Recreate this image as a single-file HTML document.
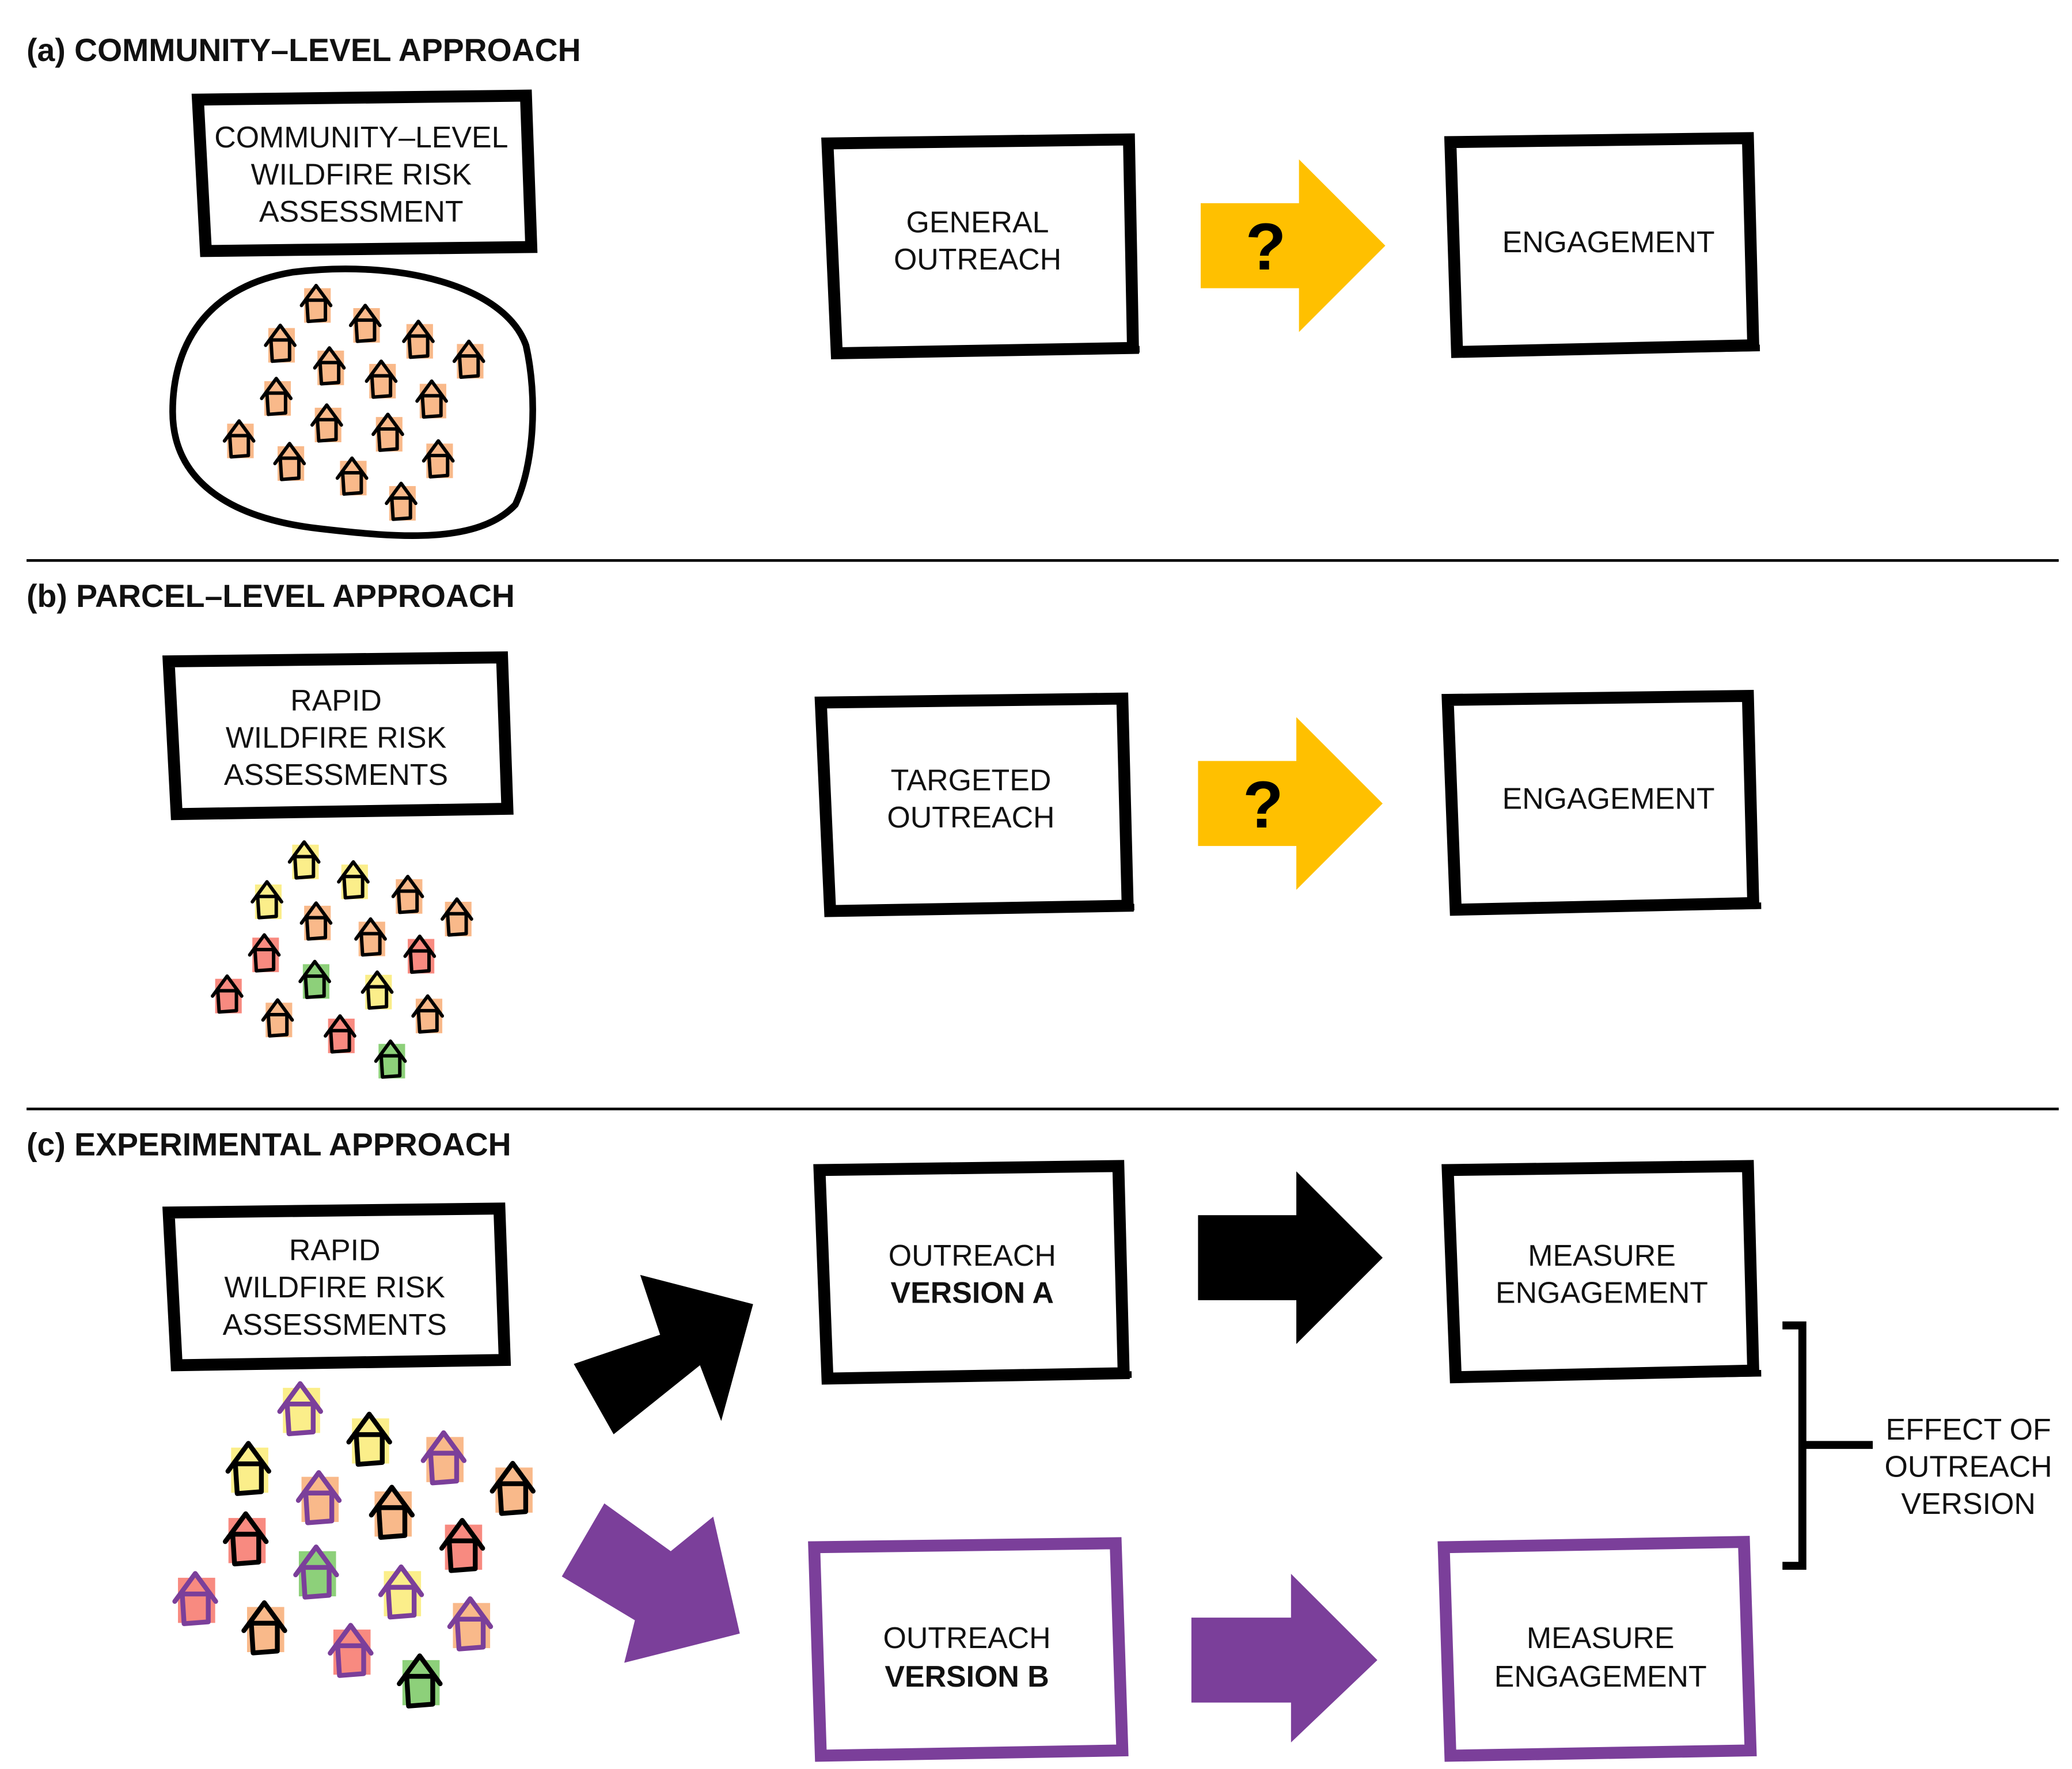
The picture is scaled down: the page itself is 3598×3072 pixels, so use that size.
<!DOCTYPE html>
<html><head><meta charset="utf-8"><style>
html,body{margin:0;padding:0;background:#fff}
svg{display:block}
text{font-family:"Liberation Sans",sans-serif}
.t{font-size:22.5px;fill:#111;text-anchor:middle}
.h{font-size:24px;font-weight:bold;fill:#111}
.b{fill:none;stroke:#000;stroke-width:9;stroke-linejoin:miter}
.p{fill:none;stroke:#7b3f9a;stroke-width:9;stroke-linejoin:miter}
</style></head><body>
<svg width="3598" height="3072" viewBox="0 0 1560 1332" preserveAspectRatio="none" xmlns="http://www.w3.org/2000/svg">
<defs>
<g id="hk"><polyline points="-11,2 0,-13 11,2" fill="none" stroke="#000" stroke-width="2.6" stroke-linejoin="round" stroke-linecap="round"/><path d="M-7,-2 L-6,14 L7,13 L7,-2 Z" fill="none" stroke="#000" stroke-width="2.6" stroke-linejoin="round"/></g>
<g id="hp"><polyline points="-11,2 0,-13 11,2" fill="none" stroke="#7b3f9a" stroke-width="2.6" stroke-linejoin="round" stroke-linecap="round"/><path d="M-7,-2 L-6,14 L7,13 L7,-2 Z" fill="none" stroke="#7b3f9a" stroke-width="2.6" stroke-linejoin="round"/></g>
</defs>

<!-- Section a -->
<text class="h" x="20" y="46">(a) COMMUNITY–LEVEL APPROACH</text>
<path class="b" d="M149,75 L396,72 L400,186 L155,189 Z"/>
<line x1="155" y1="189" x2="404" y2="185" stroke="#000" stroke-width="6"/>
<text class="t" x="272" y="111">COMMUNITY–LEVEL</text>
<text class="t" x="272" y="139">WILDFIRE RISK</text>
<text class="t" x="272" y="167">ASSESSMENT</text>
<path d="M220,205 C300,195 380,215 396,260 C405,300 402,350 388,380 C360,410 300,405 240,398 C170,390 130,360 130,310 C130,255 160,215 220,205 Z" fill="none" stroke="#000" stroke-width="5"/>

<g id="ha">
<g fill="#f9b98a">
<rect x="229" y="217" width="20" height="26"/><rect x="202" y="247" width="20" height="26"/><rect x="266" y="232" width="20" height="26"/><rect x="306" y="244" width="20" height="26"/><rect x="344" y="259" width="20" height="26"/><rect x="239" y="264" width="20" height="26"/><rect x="278" y="274" width="20" height="26"/><rect x="199" y="287" width="20" height="26"/><rect x="316" y="289" width="20" height="26"/><rect x="237" y="307" width="20" height="26"/><rect x="283" y="314" width="20" height="26"/><rect x="171" y="319" width="20" height="26"/><rect x="209" y="336" width="20" height="26"/><rect x="321" y="334" width="20" height="26"/><rect x="256" y="347" width="20" height="26"/><rect x="293" y="366" width="20" height="26"/>
</g>
<use href="#hk" x="238" y="228"/><use href="#hk" x="211" y="258"/><use href="#hk" x="275" y="243"/><use href="#hk" x="315" y="255"/><use href="#hk" x="353" y="270"/><use href="#hk" x="248" y="275"/><use href="#hk" x="287" y="285"/><use href="#hk" x="208" y="298"/><use href="#hk" x="325" y="300"/><use href="#hk" x="246" y="318"/><use href="#hk" x="292" y="325"/><use href="#hk" x="180" y="330"/><use href="#hk" x="218" y="347"/><use href="#hk" x="330" y="345"/><use href="#hk" x="265" y="358"/><use href="#hk" x="302" y="377"/>
</g>

<path class="b" d="M623,108 L850,105 L853,262 L630,266 Z"/>
<line x1="630" y1="267" x2="858" y2="263" stroke="#000" stroke-width="5"/>
<text class="t" x="736" y="175">GENERAL</text>
<text class="t" x="736" y="203">OUTREACH</text>
<polygon points="904,153 978,153 978,120 1043,185 978,250 978,217 904,217" fill="#ffc000"/>
<text x="953" y="203" font-size="50" font-weight="bold" text-anchor="middle" font-family="Liberation Sans,sans-serif">?</text>
<path class="b" d="M1092,107 L1316,104 L1320,260 L1097,265 Z"/>
<line x1="1097" y1="266" x2="1325" y2="262" stroke="#000" stroke-width="5"/>
<text class="t" x="1211" y="190">ENGAGEMENT</text>

<line x1="20" y1="422" x2="1550" y2="422" stroke="#000" stroke-width="2"/>

<!-- Section b -->
<text class="h" x="20" y="457">(b) PARCEL–LEVEL APPROACH</text>
<path class="b" d="M127,498 L378,495 L382,609 L133,613 Z"/>
<line x1="133" y1="613" x2="386" y2="609" stroke="#000" stroke-width="5"/>
<text class="t" x="253" y="535">RAPID</text>
<text class="t" x="253" y="563">WILDFIRE RISK</text>
<text class="t" x="253" y="591">ASSESSMENTS</text>
<g>
<rect x="220" y="636" width="20" height="26" fill="#fbee8a"/><rect x="192" y="666" width="20" height="26" fill="#fbee8a"/><rect x="257" y="651" width="20" height="26" fill="#fbee8a"/><rect x="298" y="662" width="20" height="26" fill="#f9b98a"/><rect x="335" y="679" width="20" height="26" fill="#f9b98a"/><rect x="229" y="682" width="20" height="26" fill="#f9b98a"/><rect x="270" y="694" width="20" height="26" fill="#f9b98a"/><rect x="190" y="706" width="20" height="26" fill="#f88a80"/><rect x="307" y="707" width="20" height="26" fill="#f88a80"/><rect x="228" y="726" width="20" height="26" fill="#8dd07a"/><rect x="275" y="734" width="20" height="26" fill="#fbee8a"/><rect x="162" y="737" width="20" height="26" fill="#f88a80"/><rect x="200" y="755" width="20" height="26" fill="#f9b98a"/><rect x="313" y="752" width="20" height="26" fill="#f9b98a"/><rect x="247" y="767" width="20" height="26" fill="#f88a80"/><rect x="285" y="786" width="20" height="26" fill="#8dd07a"/>
<use href="#hk" x="229" y="647"/><use href="#hk" x="201" y="677"/><use href="#hk" x="266" y="662"/><use href="#hk" x="307" y="673"/><use href="#hk" x="344" y="690"/><use href="#hk" x="238" y="693"/><use href="#hk" x="279" y="705"/><use href="#hk" x="199" y="717"/><use href="#hk" x="316" y="718"/><use href="#hk" x="237" y="737"/><use href="#hk" x="284" y="745"/><use href="#hk" x="171" y="748"/><use href="#hk" x="209" y="766"/><use href="#hk" x="322" y="763"/><use href="#hk" x="256" y="778"/><use href="#hk" x="294" y="797"/>
</g>
<path class="b" d="M618,529 L845,526 L849,682 L625,686 Z"/>
<line x1="625" y1="687" x2="854" y2="683" stroke="#000" stroke-width="5"/>
<text class="t" x="731" y="595">TARGETED</text>
<text class="t" x="731" y="623">OUTREACH</text>
<polygon points="902,573 976,573 976,540 1041,605 976,670 976,637 902,637" fill="#ffc000"/>
<text x="951" y="623" font-size="50" font-weight="bold" text-anchor="middle" font-family="Liberation Sans,sans-serif">?</text>
<path class="b" d="M1090,527 L1316,524 L1320,680 L1096,685 Z"/>
<line x1="1096" y1="686" x2="1326" y2="682" stroke="#000" stroke-width="5"/>
<text class="t" x="1211" y="609">ENGAGEMENT</text>

<line x1="20" y1="835" x2="1550" y2="835" stroke="#000" stroke-width="2"/>

<!-- Section c -->
<text class="h" x="20" y="870">(c) EXPERIMENTAL APPROACH</text>
<path class="b" d="M127,913 L376,910 L380,1024 L133,1028 Z"/>
<line x1="133" y1="1028" x2="384" y2="1024" stroke="#000" stroke-width="5"/>
<text class="t" x="252" y="949">RAPID</text>
<text class="t" x="252" y="977">WILDFIRE RISK</text>
<text class="t" x="252" y="1005">ASSESSMENTS</text>

<g transform="translate(0,0)">
<g>
<rect x="213" y="1045" width="28" height="34" fill="#fbee8a"/><rect x="174" y="1090" width="28" height="34" fill="#fbee8a"/><rect x="265" y="1068" width="28" height="34" fill="#fbee8a"/><rect x="321" y="1082" width="28" height="34" fill="#f9b98a"/><rect x="373" y="1105" width="28" height="34" fill="#f9b98a"/><rect x="227" y="1112" width="28" height="34" fill="#f9b98a"/><rect x="282" y="1123" width="28" height="34" fill="#f9b98a"/><rect x="172" y="1143" width="28" height="34" fill="#f88a80"/><rect x="335" y="1148" width="28" height="34" fill="#f88a80"/><rect x="225" y="1168" width="28" height="34" fill="#8dd07a"/><rect x="289" y="1183" width="28" height="34" fill="#fbee8a"/><rect x="134" y="1188" width="28" height="34" fill="#f88a80"/><rect x="186" y="1210" width="28" height="34" fill="#f9b98a"/><rect x="341" y="1207" width="28" height="34" fill="#f9b98a"/><rect x="251" y="1227" width="28" height="34" fill="#f88a80"/><rect x="303" y="1250" width="28" height="34" fill="#8dd07a"/>
</g>
<g transform="translate(226,1060) scale(1.4)"><use href="#hp"/></g>
<g transform="translate(187,1105) scale(1.4)"><use href="#hk"/></g>
<g transform="translate(278,1083) scale(1.4)"><use href="#hk"/></g>
<g transform="translate(334,1097) scale(1.4)"><use href="#hp"/></g>
<g transform="translate(386,1120) scale(1.4)"><use href="#hk"/></g>
<g transform="translate(240,1127) scale(1.4)"><use href="#hp"/></g>
<g transform="translate(295,1138) scale(1.4)"><use href="#hk"/></g>
<g transform="translate(185,1158) scale(1.4)"><use href="#hk"/></g>
<g transform="translate(348,1163) scale(1.4)"><use href="#hk"/></g>
<g transform="translate(238,1183) scale(1.4)"><use href="#hp"/></g>
<g transform="translate(302,1198) scale(1.4)"><use href="#hp"/></g>
<g transform="translate(147,1203) scale(1.4)"><use href="#hp"/></g>
<g transform="translate(199,1225) scale(1.4)"><use href="#hk"/></g>
<g transform="translate(354,1222) scale(1.4)"><use href="#hp"/></g>
<g transform="translate(264,1242) scale(1.4)"><use href="#hp"/></g>
<g transform="translate(316,1265) scale(1.4)"><use href="#hk"/></g>
</g>

<polygon points="567,982 482,960 497,1005 432,1027 462,1080 527,1028 543,1070" fill="#000"/>
<polygon points="557,1230 537,1142 505,1168 455,1132 423,1187 478,1220 470,1252" fill="#7b3f9a"/>

<path class="b" d="M617,881 L842,878 L846,1034 L623,1038 Z"/>
<line x1="623" y1="1039" x2="852" y2="1035" stroke="#000" stroke-width="5"/>
<text class="t" x="732" y="953">OUTREACH</text>
<text class="t" x="732" y="981" font-weight="bold">VERSION A</text>
<polygon points="902,915 976,915 976,882 1041,947 976,1012 976,979 902,979" fill="#000"/>
<path class="b" d="M1090,881 L1316,878 L1320,1032 L1096,1037 Z"/>
<line x1="1096" y1="1038" x2="1326" y2="1034" stroke="#000" stroke-width="5"/>
<text class="t" x="1206" y="953">MEASURE</text>
<text class="t" x="1206" y="981">ENGAGEMENT</text>

<path d="M1342,998 L1357,998 L1357,1179 L1342,1179" fill="none" stroke="#000" stroke-width="6"/>
<line x1="1357" y1="1088" x2="1410" y2="1088" stroke="#000" stroke-width="6"/>
<text class="t" x="1482" y="1084">EFFECT OF</text>
<text class="t" x="1482" y="1112">OUTREACH</text>
<text class="t" x="1482" y="1140">VERSION</text>

<path class="p" d="M613,1165 L840,1162 L845,1318 L618,1322 Z"/>
<text class="t" x="728" y="1241">OUTREACH</text>
<text class="t" x="728" y="1270" font-weight="bold">VERSION B</text>
<polygon points="897,1218 972,1218 972,1185 1037,1250 972,1312 972,1282 897,1282" fill="#7b3f9a"/>
<path class="p" d="M1087,1165 L1313,1161 L1318,1318 L1092,1322 Z"/>
<text class="t" x="1205" y="1241">MEASURE</text>
<text class="t" x="1205" y="1270">ENGAGEMENT</text>
</svg>
</body></html>
